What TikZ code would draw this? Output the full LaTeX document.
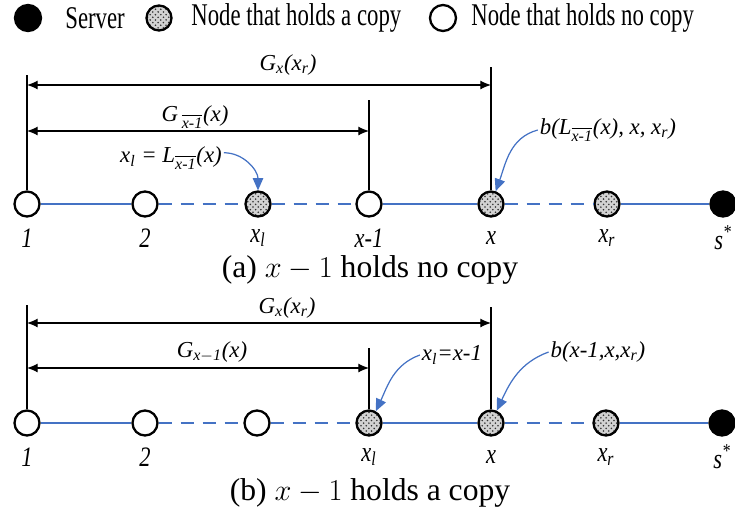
\documentclass[tikz,border=0pt]{standalone}
\usepackage{fontspec}
\setmainfont{Liberation Serif}
\newfontfamily\legendfont{Liberation Serif}[FakeStretch=0.72]
\newfontfamily\narrowfont{Liberation Serif}[FakeStretch=0.8]
\usetikzlibrary{patterns,arrows.meta}
\definecolor{linkblue}{RGB}{68,114,196}
\newcommand{\sbs}[1]{\textsubscript{#1}}
\newcommand{\barxm}{$\overline{\mbox{\itshape x-1}}$}
\tikzset{
	host/.style={circle,draw=black,line width=1.3pt,minimum size=0.5cm,inner sep=0pt},
	nocopy/.style={host,fill=white},
	hascopy/.style={host,preaction={fill=gray!35},pattern=crosshatch dots,pattern color=black!80},
	server/.style={host,fill=black},
	link/.style={linkblue,line width=1.3pt},
	gap/.style={link,dash pattern=on 0.27cm off 0.17cm},
	guide/.style={line width=0.6pt},
	dim/.style={line width=0.6pt,{Latex[length=6pt,width=5pt]}-{Latex[length=6pt,width=5pt]}},
	pointer/.style={linkblue,line width=0.7pt,-{Triangle[length=7pt,width=6pt]}},
	lbl/.style={font=\fontsize{13}{15}\selectfont\itshape,inner sep=1pt},
	rowlbl/.style={font={\narrowfont\fontsize{16}{18}\selectfont\itshape},inner sep=1pt},
	legend/.style={font={\legendfont\fontsize{18}{20}\selectfont},anchor=west,inner sep=0pt},
	caption/.style={font=\fontsize{18}{21}\selectfont}
}
\begin{document}
\begin{tikzpicture}[x=0.02cm,y=-0.02cm]
	\useasboundingbox (0,0) rectangle (735,518);
	
	% legend
	\node[server,minimum size=0.52cm] (k1) at (28,18) {};
	\node[legend] (t1) at (65,18) {Server};
	\node[hascopy] (k2) at (159,18) {};
	\node[legend] (t2) at (191,18) {Node that holds a copy};
	\node[nocopy,minimum size=0.52cm] (k3) at (443,18) {};
	\node[legend] (t3) at (471,18) {Node that holds no copy};
	
	% (a) x-1 holds no copy
	\foreach \px/\kind/\txt [count=\i] in {27/nocopy/1,145/nocopy/2,258/hascopy/x\sbs{l},369/nocopy/x-1,491/hascopy/x,607/hascopy/x\sbs{r},723/server/s\textsuperscript{*}}{
		\node[\kind] (a\i) at (\px,204) {};
		\node[rowlbl] (la\i) at (\px,238) {\txt};}
	
	% (b) x-1 holds a copy
	\foreach \px/\kind/\txt [count=\i] in {27/nocopy/1,145/nocopy/2,257/nocopy/{},369/hascopy/x\sbs{l},491/hascopy/x,606/hascopy/x\sbs{r},722/server/s\textsuperscript{*}}{
		\node[\kind] (b\i) at (\px,423) {};
		\node[rowlbl] (lb\i) at (\px,457) {\txt};}
	
	\foreach \i/\j/\st in {1/2/link,2/3/gap,3/4/gap,4/5/link,5/6/gap,6/7/link}{
		\draw[\st] (a\i) -- (a\j);
		\draw[\st] (b\i) -- (b\j);}
	
	% guides and spans (a)
	\coordinate (ta1) at (27,75);
	\coordinate (ta4) at (369,100);
	\coordinate (ta5) at (491,67);
	\draw[guide] (ta1) -- (a1);
	\draw[guide] (ta4) -- (a4);
	\draw[guide] (ta5) -- (a5);
	\coordinate (ga1) at (27,85);
	\coordinate (ga5) at (491,85);
	\coordinate (ha1) at (27,131);
	\coordinate (ha4) at (369,131);
	\draw[dim] (ga1) -- (ga5);
	\draw[dim] (ha1) -- (ha4);
	\node[lbl] (gxa) at (288,65) {G\sbs{x}(x\sbs{r})};
	\node[lbl] (gma) at (195,117) {G\,\sbs{\barxm}(x)};
	\node[lbl] (xla) at (171,158) {x\sbs{l} = L\sbs{\barxm}(x)};
	\node[lbl] (bla) at (608,130) {b(L\sbs{\barxm}(x), x, x\sbs{r})};
	\draw[pointer] ([yshift=3pt]xla.east) to[out=0,in=90] (a3.north);
	\draw[pointer] (bla.west) to[out=195,in=70] (a5.70);
	
	% guides and spans (b)
	\coordinate (tb1) at (27,305);
	\coordinate (tb4) at (369,348);
	\coordinate (tb5) at (491,307);
	\draw[guide] (tb1) -- (b1);
	\draw[guide] (tb4) -- (b4);
	\draw[guide] (tb5) -- (b5);
	\coordinate (gb1) at (27,323);
	\coordinate (gb5) at (491,323);
	\coordinate (hb1) at (27,368);
	\coordinate (hb4) at (369,368);
	\draw[dim] (gb1) -- (gb5);
	\draw[dim] (hb1) -- (hb4);
	\node[lbl] (gxb) at (287,308) {G\sbs{x}(x\sbs{r})};
	\node[lbl] (gmb) at (212,352) {G\sbs{x$-$1}(x)};
	\node[lbl] (xlb) at (452,355) {x\sbs{l}=x-1};
	\node[lbl] (blb) at (598,352) {b(x-1,x,x\sbs{r})};
	\draw[pointer] (xlb.west) to[out=200,in=65] (b4.60);
	\draw[pointer] (blb.west) to[out=200,in=65] (b5.65);
	
	\node[caption] (capa) at (370,270) {(a) $x-1$ holds no copy};
	\node[caption] (capb) at (370,493) {(b) $x-1$ holds a copy};
\end{tikzpicture}
\end{document}
